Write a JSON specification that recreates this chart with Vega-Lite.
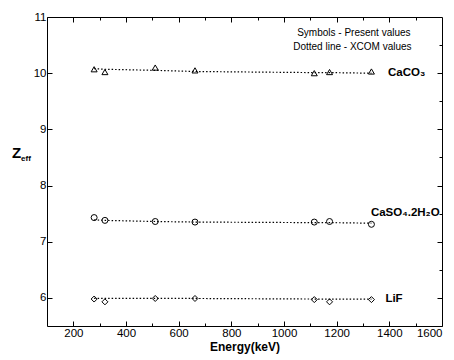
{
  "$schema": "https://vega.github.io/schema/vega-lite/v6.json",
  "width": 395,
  "height": 309,
  "autosize": "none",
  "padding": {"left": 47, "top": 17, "right": 12, "bottom": 34},
  "background": "white",
  "config": {
    "view": {"stroke": null},
    "font": "Liberation Sans",
    "axis": {
      "domainColor": "black", "domainWidth": 1, "tickColor": "black", "tickWidth": 1,
      "labelColor": "black", "labelFont": "Liberation Sans", "labelFontSize": 11.5,
      "titleColor": "black", "titleFont": "Liberation Sans", "grid": false
    }
  },
  "datasets": {
    "pts": [
      {"compound": "CaCO3", "energy": 279, "z": 10.07},
      {"compound": "CaCO3", "energy": 320, "z": 10.02},
      {"compound": "CaCO3", "energy": 511, "z": 10.1},
      {"compound": "CaCO3", "energy": 662, "z": 10.05},
      {"compound": "CaCO3", "energy": 1115, "z": 10.0},
      {"compound": "CaCO3", "energy": 1173, "z": 10.02},
      {"compound": "CaCO3", "energy": 1332, "z": 10.03},
      {"compound": "CaSO4", "energy": 279, "z": 7.43},
      {"compound": "CaSO4", "energy": 320, "z": 7.38},
      {"compound": "CaSO4", "energy": 511, "z": 7.36},
      {"compound": "CaSO4", "energy": 662, "z": 7.35},
      {"compound": "CaSO4", "energy": 1115, "z": 7.35},
      {"compound": "CaSO4", "energy": 1173, "z": 7.36},
      {"compound": "CaSO4", "energy": 1332, "z": 7.31},
      {"compound": "LiF", "energy": 279, "z": 5.98},
      {"compound": "LiF", "energy": 320, "z": 5.93},
      {"compound": "LiF", "energy": 511, "z": 5.99},
      {"compound": "LiF", "energy": 662, "z": 5.99},
      {"compound": "LiF", "energy": 1115, "z": 5.97},
      {"compound": "LiF", "energy": 1173, "z": 5.93},
      {"compound": "LiF", "energy": 1332, "z": 5.97}
    ],
    "xcom": [
      {"compound": "CaCO3", "energy": 279, "z": 10.08},
      {"compound": "CaCO3", "energy": 320, "z": 10.07},
      {"compound": "CaCO3", "energy": 511, "z": 10.05},
      {"compound": "CaCO3", "energy": 662, "z": 10.03},
      {"compound": "CaCO3", "energy": 1115, "z": 10.01},
      {"compound": "CaCO3", "energy": 1173, "z": 10.01},
      {"compound": "CaCO3", "energy": 1332, "z": 10.0},
      {"compound": "CaSO4", "energy": 279, "z": 7.39},
      {"compound": "CaSO4", "energy": 320, "z": 7.38},
      {"compound": "CaSO4", "energy": 511, "z": 7.36},
      {"compound": "CaSO4", "energy": 662, "z": 7.35},
      {"compound": "CaSO4", "energy": 1115, "z": 7.34},
      {"compound": "CaSO4", "energy": 1173, "z": 7.34},
      {"compound": "CaSO4", "energy": 1332, "z": 7.33},
      {"compound": "LiF", "energy": 279, "z": 5.99},
      {"compound": "LiF", "energy": 320, "z": 5.99},
      {"compound": "LiF", "energy": 511, "z": 5.99},
      {"compound": "LiF", "energy": 662, "z": 5.99},
      {"compound": "LiF", "energy": 1115, "z": 5.98},
      {"compound": "LiF", "energy": 1173, "z": 5.98},
      {"compound": "LiF", "energy": 1332, "z": 5.98}
    ],
    "labels": [
      {"text": "CaCO₃", "energy": 1395, "z": 10.0},
      {"text": "CaSO₄.2H₂O", "energy": 1330, "z": 7.52},
      {"text": "LiF", "energy": 1385, "z": 5.98}
    ],
    "notes": [
      {"text": "Symbols - Present values", "energy": 1050, "z": 10.72},
      {"text": "Dotted line -  XCOM values", "energy": 1035, "z": 10.47}
    ],
    "sub": [
      {"text": "eff", "energy": 100, "z": 8.48}
    ]
  },
  "layer": [
    {
      "data": {"name": "xcom"},
      "mark": {"type": "line", "color": "black", "strokeWidth": 1.2, "strokeDash": [1.5, 2]},
      "encoding": {
        "x": {"field": "energy", "type": "quantitative",
          "scale": {"domain": [100, 1600], "nice": false},
          "axis": {"orient": "top", "values": [200,300,400,500,600,700,800,900,1000,1100,1200,1300,1400,1500],
            "labels": false, "title": null,
            "tickSize": {"condition": {"test": "datum.value % 200 === 0", "value": -5}, "value": -3}}},
        "y": {"field": "z", "type": "quantitative",
          "scale": {"domain": [5.5, 11], "nice": false, "zero": false},
          "axis": {"orient": "right", "values": [6,6.5,7,7.5,8,8.5,9,9.5,10,10.5],
            "labels": false, "title": null,
            "tickSize": {"condition": {"test": "datum.value % 1 === 0", "value": -5}, "value": -3}}},
        "detail": {"field": "compound"}
      }
    },
    {
      "data": {"name": "pts"},
      "mark": {"type": "point", "filled": false, "color": "black", "strokeWidth": 1, "size": 36, "opacity": 1},
      "encoding": {
        "x": {"field": "energy", "type": "quantitative",
          "axis": {"orient": "bottom", "values": [200,300,400,500,600,700,800,900,1000,1100,1200,1300,1400,1500,1600],
            "format": "d",
            "labelExpr": "datum.value % 200 === 0 ? datum.label : ''",
            "labelPadding": 6,
            "tickSize": {"condition": {"test": "datum.value % 200 === 0", "value": -5}, "value": -3},
            "title": "Energy(keV)", "titleFontSize": 12, "titleFontWeight": "bold", "titlePadding": 3}},
        "y": {"field": "z", "type": "quantitative",
          "axis": {"orient": "left", "values": [6,6.5,7,7.5,8,8.5,9,9.5,10,10.5,11],
            "format": "d",
            "labelExpr": "datum.value % 1 === 0 ? datum.label : ''",
            "labelPadding": 6,
            "tickSize": {"condition": {"test": "datum.value % 1 === 0", "value": -5}, "value": -3},
            "title": "Z", "titleAngle": 0, "titleFontSize": 15, "titleFontWeight": "bold",
            "titleX": -31, "titleY": 135, "titleAlign": "center", "titleBaseline": "middle"}},
        "shape": {"field": "compound", "type": "nominal",
          "scale": {"domain": ["CaCO3", "CaSO4", "LiF"], "range": ["triangle-up", "circle", "diamond"]},
          "legend": null}
      }
    },
    {
      "data": {"name": "labels"},
      "mark": {"type": "text", "align": "left", "baseline": "middle", "fontSize": 11.5, "fontWeight": "bold", "color": "black"},
      "encoding": {
        "x": {"field": "energy", "type": "quantitative", "axis": null},
        "y": {"field": "z", "type": "quantitative", "axis": null},
        "text": {"field": "text"}
      }
    },
    {
      "data": {"name": "notes"},
      "mark": {"type": "text", "align": "left", "baseline": "middle", "fontSize": 10, "color": "black"},
      "encoding": {
        "x": {"field": "energy", "type": "quantitative", "axis": null},
        "y": {"field": "z", "type": "quantitative", "axis": null},
        "text": {"field": "text"}
      }
    },
    {
      "data": {"name": "sub"},
      "mark": {"type": "text", "align": "center", "baseline": "middle", "fontSize": 8, "fontWeight": "bold", "color": "black", "dx": -21},
      "encoding": {
        "x": {"field": "energy", "type": "quantitative", "axis": null},
        "y": {"field": "z", "type": "quantitative", "axis": null},
        "text": {"field": "text"}
      }
    }
  ],
  "resolve": {"axis": {"x": "independent", "y": "independent"}}
}
